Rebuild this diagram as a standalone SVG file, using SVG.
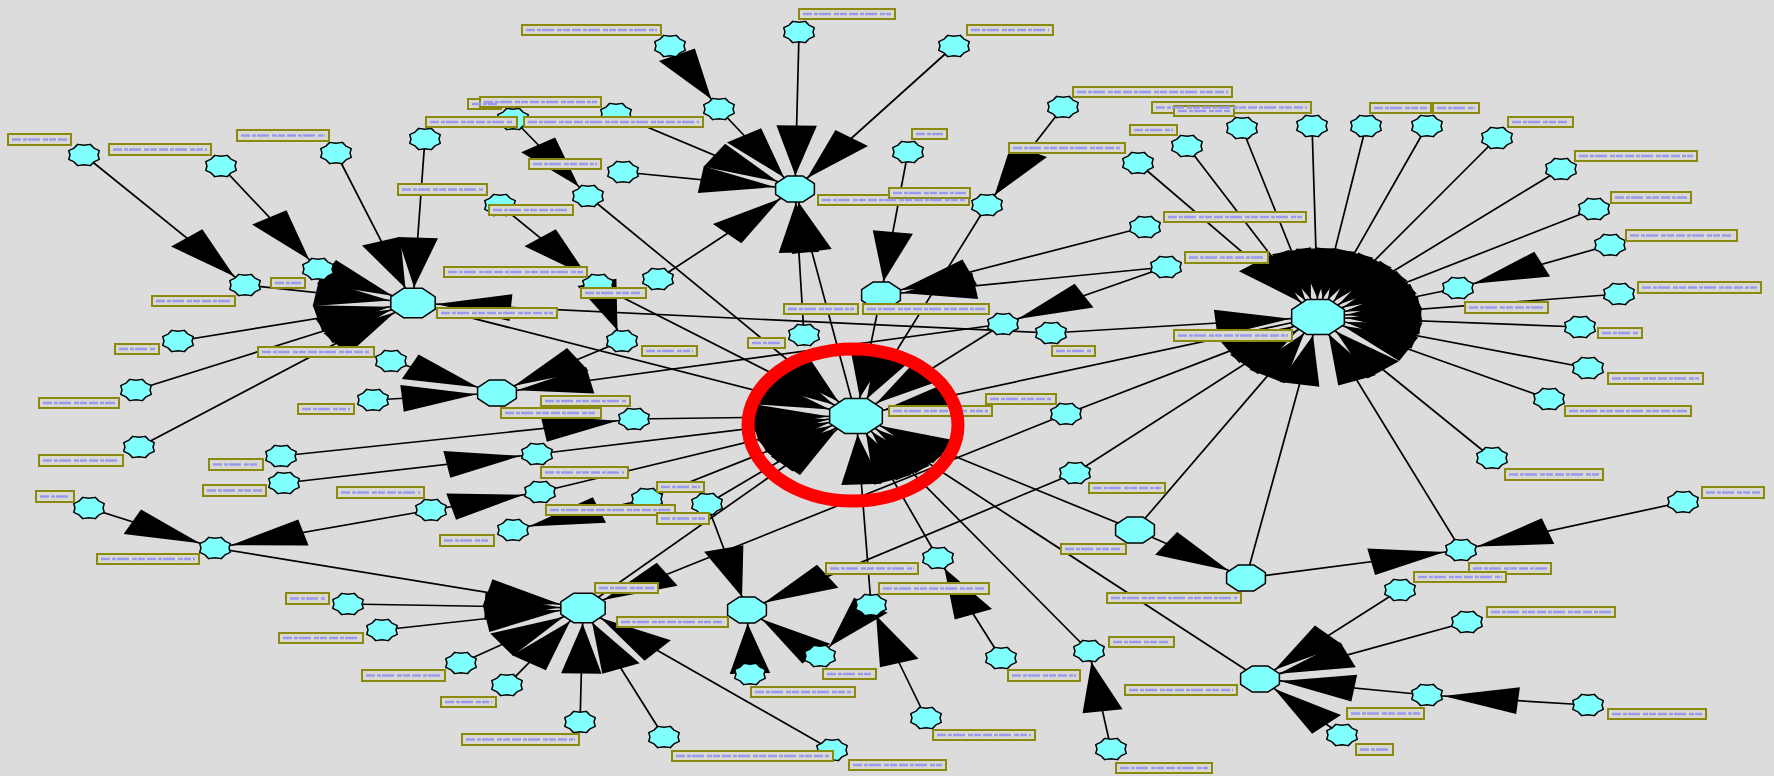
<svg xmlns="http://www.w3.org/2000/svg" xmlns:xlink="http://www.w3.org/1999/xlink" width="1774" height="776" viewBox="0 0 1774 776">
<style>
.e line{stroke:#000;stroke-width:1.7;vector-effect:non-scaling-stroke}
#sn,#h19,#h16,#h14{fill:#80ffff;stroke:#000;stroke-width:1.5;stroke-linejoin:round}
.lb rect{fill:#d9d9cf;stroke:#8a8a10;stroke-width:2}
.sc{fill:none;stroke:#9a9af2;stroke-width:2.5;stroke-dasharray:9 2 4 1 12 3 5 1 7 2}
</style>
<defs>
<marker id="aS" markerUnits="userSpaceOnUse" orient="auto" refX="0" refY="0" markerWidth="10" markerHeight="10" style="overflow:visible"><path d="M-11,0 L-61,-13.5 L-61,13.5 Z" fill="#000"/></marker>
<marker id="aM" markerUnits="userSpaceOnUse" orient="auto" refX="0" refY="0" markerWidth="10" markerHeight="10" style="overflow:visible"><path d="M-13.5,0 L-63.5,-13.5 L-63.5,13.5 Z" fill="#000"/></marker>
<marker id="aH" markerUnits="userSpaceOnUse" orient="auto" refX="0" refY="0" markerWidth="10" markerHeight="10" style="overflow:visible"><path d="M-15.5,0 L-65.5,-13.5 L-65.5,13.5 Z" fill="#000"/></marker>
<marker id="aL" markerUnits="userSpaceOnUse" orient="auto" refX="0" refY="0" markerWidth="10" markerHeight="10" style="overflow:visible"><path d="M-18.5,0 L-68.5,-13.5 L-68.5,13.5 Z" fill="#000"/></marker>
<polygon id="sn" points="14.03,0 15.25,4.4 9.92,6.91 6.32,10.63 0,9.78 -6.32,10.63 -9.92,6.91 -15.25,4.4 -14.03,0 -15.25,-4.4 -9.92,-6.91 -6.32,-10.63 0,-9.78 6.32,-10.63 9.92,-6.91 15.25,-4.4"/>
<polygon id="h19" points="26.33,7.27 10.91,17.55 -10.91,17.55 -26.33,7.27 -26.33,-7.27 -10.91,-17.55 10.91,-17.55 26.33,-7.27"/>
<polygon id="h16" points="22.18,6.12 9.18,14.78 -9.18,14.78 -22.18,6.12 -22.18,-6.12 -9.18,-14.78 9.18,-14.78 22.18,-6.12"/>
<polygon id="h14" points="19.4,5.36 8.04,12.94 -8.04,12.94 -19.4,5.36 -19.4,-5.36 -8.04,-12.94 8.04,-12.94 19.4,-5.36"/>
</defs>
<rect width="1774" height="776" fill="#dcdcdc"/>

<g id="connectors" class="e" transform="scale(1.5 1)">
<g style="marker-end:url(#aL)">
<line x1="422.7" y1="419" x2="570.7" y2="416"/>
<line x1="358" y1="454" x2="570.7" y2="416"/>
<line x1="360" y1="492" x2="570.7" y2="416"/>
<line x1="275.3" y1="303" x2="570.7" y2="416"/>
<line x1="398.7" y1="285" x2="570.7" y2="416"/>
<line x1="392" y1="196" x2="570.7" y2="416"/>
<line x1="658" y1="205" x2="570.7" y2="416"/>
<line x1="587.3" y1="295" x2="570.7" y2="416"/>
<line x1="668.7" y1="324" x2="570.7" y2="416"/>
<line x1="878.7" y1="317" x2="570.7" y2="416"/>
<line x1="756.7" y1="530" x2="570.7" y2="416"/>
<line x1="840" y1="679" x2="570.7" y2="416"/>
<line x1="726" y1="651" x2="570.7" y2="416"/>
<line x1="625.3" y1="558" x2="570.7" y2="416"/>
<line x1="580.7" y1="605" x2="570.7" y2="416"/>
<line x1="471.3" y1="504" x2="570.7" y2="416"/>
<line x1="431.3" y1="499" x2="570.7" y2="416"/>
<line x1="388.7" y1="608" x2="570.7" y2="416"/>
<line x1="700.7" y1="333" x2="878.7" y2="317"/>
<line x1="758.7" y1="163" x2="878.7" y2="317"/>
<line x1="791.3" y1="146" x2="878.7" y2="317"/>
<line x1="828" y1="128" x2="878.7" y2="317"/>
<line x1="874.7" y1="126" x2="878.7" y2="317"/>
<line x1="910.7" y1="126" x2="878.7" y2="317"/>
<line x1="951.3" y1="126" x2="878.7" y2="317"/>
<line x1="998" y1="138" x2="878.7" y2="317"/>
<line x1="1040.7" y1="169" x2="878.7" y2="317"/>
<line x1="1062.7" y1="209" x2="878.7" y2="317"/>
<line x1="972" y1="288" x2="878.7" y2="317"/>
<line x1="1079.3" y1="294" x2="878.7" y2="317"/>
<line x1="1053.3" y1="327" x2="878.7" y2="317"/>
<line x1="1058.7" y1="368" x2="878.7" y2="317"/>
<line x1="1032.7" y1="399" x2="878.7" y2="317"/>
<line x1="994.7" y1="458" x2="878.7" y2="317"/>
<line x1="974" y1="550" x2="878.7" y2="317"/>
<line x1="830.7" y1="578" x2="878.7" y2="317"/>
<line x1="756.7" y1="530" x2="878.7" y2="317"/>
<line x1="716.7" y1="473" x2="878.7" y2="317"/>
<line x1="710.7" y1="414" x2="878.7" y2="317"/>
</g>
<g style="marker-end:url(#aM)">
<line x1="479.3" y1="109" x2="530" y2="189"/>
<line x1="532.7" y1="32" x2="530" y2="189"/>
<line x1="636" y1="46" x2="530" y2="189"/>
<line x1="410.7" y1="114" x2="530" y2="189"/>
<line x1="415.3" y1="172" x2="530" y2="189"/>
<line x1="438.7" y1="279" x2="530" y2="189"/>
<line x1="570.7" y1="416" x2="530" y2="189"/>
<line x1="536" y1="335" x2="530" y2="189"/>
<line x1="414.7" y1="341" x2="331.3" y2="393"/>
<line x1="668.7" y1="324" x2="331.3" y2="393"/>
<line x1="260.7" y1="361" x2="331.3" y2="393"/>
<line x1="248.7" y1="400" x2="331.3" y2="393"/>
<line x1="605.3" y1="152" x2="587.3" y2="295"/>
<line x1="763.3" y1="227" x2="587.3" y2="295"/>
<line x1="777.3" y1="267" x2="587.3" y2="295"/>
<line x1="716.7" y1="473" x2="498" y2="610"/>
<line x1="546.7" y1="656" x2="498" y2="610"/>
<line x1="500" y1="674" x2="498" y2="610"/>
<line x1="471.3" y1="504" x2="498" y2="610"/>
<line x1="933.3" y1="590" x2="840" y2="679"/>
<line x1="978" y1="622" x2="840" y2="679"/>
<line x1="951.3" y1="695" x2="840" y2="679"/>
<line x1="894.7" y1="735" x2="840" y2="679"/>
<line x1="756.7" y1="530" x2="830.7" y2="578"/>
</g>
<g style="marker-end:url(#aH)">
<line x1="224" y1="153" x2="275.3" y2="303"/>
<line x1="283.3" y1="139" x2="275.3" y2="303"/>
<line x1="212" y1="269" x2="275.3" y2="303"/>
<line x1="163.3" y1="285" x2="275.3" y2="303"/>
<line x1="118.7" y1="341" x2="275.3" y2="303"/>
<line x1="90.7" y1="390" x2="275.3" y2="303"/>
<line x1="92.7" y1="447" x2="275.3" y2="303"/>
<line x1="700.7" y1="333" x2="275.3" y2="303"/>
<line x1="143.3" y1="548" x2="388.7" y2="608"/>
<line x1="232" y1="604" x2="388.7" y2="608"/>
<line x1="254.7" y1="630" x2="388.7" y2="608"/>
<line x1="307.3" y1="663" x2="388.7" y2="608"/>
<line x1="338" y1="685" x2="388.7" y2="608"/>
<line x1="386.7" y1="722" x2="388.7" y2="608"/>
<line x1="442.7" y1="737" x2="388.7" y2="608"/>
<line x1="554.7" y1="750" x2="388.7" y2="608"/>
<line x1="710.7" y1="414" x2="388.7" y2="608"/>
</g>
<g style="marker-end:url(#aS)">
<line x1="56" y1="155" x2="163.3" y2="285"/>
<line x1="147.3" y1="166" x2="212" y2="269"/>
<line x1="342" y1="119" x2="392" y2="196"/>
<line x1="333.3" y1="205" x2="398.7" y2="285"/>
<line x1="398.7" y1="285" x2="414.7" y2="341"/>
<line x1="446.7" y1="46" x2="479.3" y2="109"/>
<line x1="777.3" y1="267" x2="668.7" y2="324"/>
<line x1="708.7" y1="107" x2="658" y2="205"/>
<line x1="1073.3" y1="245" x2="972" y2="288"/>
<line x1="830.7" y1="578" x2="974" y2="550"/>
<line x1="1122" y1="502" x2="974" y2="550"/>
<line x1="1058.7" y1="705" x2="951.3" y2="695"/>
<line x1="740.7" y1="749" x2="726" y2="651"/>
<line x1="667.3" y1="658" x2="625.3" y2="558"/>
<line x1="617.3" y1="718" x2="580.7" y2="605"/>
<line x1="580.7" y1="605" x2="546.7" y2="656"/>
<line x1="431.3" y1="499" x2="342" y2="530"/>
<line x1="59.3" y1="508" x2="143.3" y2="548"/>
<line x1="287.3" y1="510" x2="143.3" y2="548"/>
<line x1="287.3" y1="510" x2="360" y2="492"/>
<line x1="189.3" y1="483" x2="358" y2="454"/>
<line x1="187.3" y1="456" x2="422.7" y2="419"/>
</g>
</g>

<g id="nodes">
<g id="H1"><use xlink:href="#h19" x="856" y="416"/></g>
<g id="H2"><use xlink:href="#h19" x="1318" y="317"/></g>
<g id="H3"><use xlink:href="#h14" x="795" y="189"/></g>
<g id="H4"><use xlink:href="#h16" x="413" y="303"/></g>
<g id="H5"><use xlink:href="#h14" x="497" y="393"/></g>
<g id="H6"><use xlink:href="#h16" x="583" y="608"/></g>
<g id="H7"><use xlink:href="#h14" x="747" y="610"/></g>
<g id="H8"><use xlink:href="#h14" x="1260" y="679"/></g>
<g id="H9"><use xlink:href="#h14" x="1135" y="530"/></g>
<g id="H10"><use xlink:href="#h14" x="1246" y="578"/></g>
<g id="H12"><use xlink:href="#h14" x="881" y="295"/></g>
<g id="A1"><use xlink:href="#sn" x="84" y="155"/></g>
<g id="A2"><use xlink:href="#sn" x="221" y="166"/></g>
<g id="A3"><use xlink:href="#sn" x="336" y="153"/></g>
<g id="A4"><use xlink:href="#sn" x="425" y="139"/></g>
<g id="A5"><use xlink:href="#sn" x="513" y="119"/></g>
<g id="B0"><use xlink:href="#sn" x="616" y="114"/></g>
<g id="A6"><use xlink:href="#sn" x="500" y="205"/></g>
<g id="A7"><use xlink:href="#sn" x="588" y="196"/></g>
<g id="B6"><use xlink:href="#sn" x="623" y="172"/></g>
<g id="B2"><use xlink:href="#sn" x="670" y="46"/></g>
<g id="B1"><use xlink:href="#sn" x="799" y="32"/></g>
<g id="B3"><use xlink:href="#sn" x="954" y="46"/></g>
<g id="B4"><use xlink:href="#sn" x="719" y="109"/></g>
<g id="B5"><use xlink:href="#sn" x="908" y="152"/></g>
<g id="B7"><use xlink:href="#sn" x="658" y="279"/></g>
<g id="A8"><use xlink:href="#sn" x="598" y="285"/></g>
<g id="B8"><use xlink:href="#sn" x="622" y="341"/></g>
<g id="B9"><use xlink:href="#sn" x="804" y="335"/></g>
<g id="B10"><use xlink:href="#sn" x="987" y="205"/></g>
<g id="B11"><use xlink:href="#sn" x="1063" y="107"/></g>
<g id="B12"><use xlink:href="#sn" x="1138" y="163"/></g>
<g id="B13"><use xlink:href="#sn" x="1187" y="146"/></g>
<g id="B14"><use xlink:href="#sn" x="1145" y="227"/></g>
<g id="B15"><use xlink:href="#sn" x="1166" y="267"/></g>
<g id="B16"><use xlink:href="#sn" x="1003" y="324"/></g>
<g id="B17"><use xlink:href="#sn" x="1051" y="333"/></g>
<g id="C1"><use xlink:href="#sn" x="1242" y="128"/></g>
<g id="C2"><use xlink:href="#sn" x="1312" y="126"/></g>
<g id="C3"><use xlink:href="#sn" x="1366" y="126"/></g>
<g id="C4"><use xlink:href="#sn" x="1427" y="126"/></g>
<g id="C5"><use xlink:href="#sn" x="1497" y="138"/></g>
<g id="C6"><use xlink:href="#sn" x="1561" y="169"/></g>
<g id="C7"><use xlink:href="#sn" x="1594" y="209"/></g>
<g id="C8"><use xlink:href="#sn" x="1610" y="245"/></g>
<g id="C9"><use xlink:href="#sn" x="1458" y="288"/></g>
<g id="C10"><use xlink:href="#sn" x="1619" y="294"/></g>
<g id="C11"><use xlink:href="#sn" x="1580" y="327"/></g>
<g id="C12"><use xlink:href="#sn" x="1588" y="368"/></g>
<g id="N43"><use xlink:href="#sn" x="1549" y="399"/></g>
<g id="N45"><use xlink:href="#sn" x="1492" y="458"/></g>
<g id="N46"><use xlink:href="#sn" x="1683" y="502"/></g>
<g id="N47"><use xlink:href="#sn" x="1461" y="550"/></g>
<g id="N48"><use xlink:href="#sn" x="1400" y="590"/></g>
<g id="N49"><use xlink:href="#sn" x="1467" y="622"/></g>
<g id="N50"><use xlink:href="#sn" x="1427" y="695"/></g>
<g id="N51"><use xlink:href="#sn" x="1588" y="705"/></g>
<g id="N52"><use xlink:href="#sn" x="1342" y="735"/></g>
<g id="N8"><use xlink:href="#sn" x="318" y="269"/></g>
<g id="N9"><use xlink:href="#sn" x="245" y="285"/></g>
<g id="N10"><use xlink:href="#sn" x="178" y="341"/></g>
<g id="N11"><use xlink:href="#sn" x="391" y="361"/></g>
<g id="N12"><use xlink:href="#sn" x="136" y="390"/></g>
<g id="N13"><use xlink:href="#sn" x="139" y="447"/></g>
<g id="N14"><use xlink:href="#sn" x="373" y="400"/></g>
<g id="N15"><use xlink:href="#sn" x="281" y="456"/></g>
<g id="N16"><use xlink:href="#sn" x="284" y="483"/></g>
<g id="N17"><use xlink:href="#sn" x="537" y="454"/></g>
<g id="N18"><use xlink:href="#sn" x="540" y="492"/></g>
<g id="N19"><use xlink:href="#sn" x="431" y="510"/></g>
<g id="N20"><use xlink:href="#sn" x="513" y="530"/></g>
<g id="N21"><use xlink:href="#sn" x="89" y="508"/></g>
<g id="N22"><use xlink:href="#sn" x="215" y="548"/></g>
<g id="N23"><use xlink:href="#sn" x="348" y="604"/></g>
<g id="N24"><use xlink:href="#sn" x="382" y="630"/></g>
<g id="N25"><use xlink:href="#sn" x="461" y="663"/></g>
<g id="N26"><use xlink:href="#sn" x="507" y="685"/></g>
<g id="N27"><use xlink:href="#sn" x="580" y="722"/></g>
<g id="N28"><use xlink:href="#sn" x="634" y="419"/></g>
<g id="N29"><use xlink:href="#sn" x="1066" y="414"/></g>
<g id="N30"><use xlink:href="#sn" x="1075" y="473"/></g>
<g id="N31"><use xlink:href="#sn" x="647" y="499"/></g>
<g id="N32"><use xlink:href="#sn" x="707" y="504"/></g>
<g id="N33"><use xlink:href="#sn" x="938" y="558"/></g>
<g id="N34"><use xlink:href="#sn" x="871" y="605"/></g>
<g id="N35"><use xlink:href="#sn" x="820" y="656"/></g>
<g id="N36"><use xlink:href="#sn" x="750" y="674"/></g>
<g id="N37"><use xlink:href="#sn" x="1001" y="658"/></g>
<g id="N38"><use xlink:href="#sn" x="926" y="718"/></g>
<g id="N39"><use xlink:href="#sn" x="1089" y="651"/></g>
<g id="N40"><use xlink:href="#sn" x="1111" y="749"/></g>
<g id="N41"><use xlink:href="#sn" x="664" y="737"/></g>
<g id="N42"><use xlink:href="#sn" x="832" y="750"/></g>
</g>

<g id="labels" class="lb">
<rect x="8" y="134" width="63" height="11"/>
<rect x="109" y="144" width="102" height="11"/>
<rect x="237" y="130" width="92" height="11"/>
<rect x="398" y="184" width="89" height="11"/>
<rect x="468" y="99" width="33" height="10"/>
<rect x="480" y="97" width="121" height="10"/>
<rect x="426" y="117" width="91" height="10"/>
<rect x="524" y="117" width="179" height="10"/>
<rect x="489" y="205" width="84" height="10"/>
<rect x="529" y="159" width="72" height="10"/>
<rect x="271" y="278" width="34" height="10"/>
<rect x="152" y="296" width="83" height="10"/>
<rect x="437" y="308" width="120" height="10"/>
<rect x="115" y="344" width="44" height="10"/>
<rect x="258" y="347" width="116" height="10"/>
<rect x="444" y="267" width="143" height="10"/>
<rect x="581" y="288" width="65" height="10"/>
<rect x="39" y="398" width="80" height="10"/>
<rect x="39" y="455" width="84" height="11"/>
<rect x="298" y="404" width="56" height="10"/>
<rect x="541" y="396" width="89" height="10"/>
<rect x="501" y="408" width="100" height="10"/>
<rect x="209" y="459" width="54" height="11"/>
<rect x="203" y="485" width="63" height="11"/>
<rect x="541" y="467" width="87" height="11"/>
<rect x="337" y="487" width="87" height="11"/>
<rect x="546" y="505" width="129" height="10"/>
<rect x="440" y="535" width="54" height="11"/>
<rect x="36" y="491" width="38" height="11"/>
<rect x="97" y="554" width="102" height="10"/>
<rect x="286" y="593" width="43" height="11"/>
<rect x="279" y="633" width="84" height="10"/>
<rect x="362" y="670" width="83" height="11"/>
<rect x="441" y="697" width="55" height="10"/>
<rect x="462" y="734" width="117" height="11"/>
<rect x="595" y="583" width="63" height="10"/>
<rect x="617" y="617" width="111" height="10"/>
<rect x="657" y="482" width="47" height="10"/>
<rect x="657" y="513" width="52" height="11"/>
<rect x="889" y="406" width="103" height="10"/>
<rect x="986" y="394" width="70" height="10"/>
<rect x="1089" y="483" width="76" height="10"/>
<rect x="1061" y="544" width="65" height="10"/>
<rect x="879" y="583" width="110" height="11"/>
<rect x="826" y="563" width="92" height="11"/>
<rect x="823" y="669" width="53" height="10"/>
<rect x="751" y="687" width="104" height="10"/>
<rect x="1008" y="670" width="72" height="11"/>
<rect x="933" y="730" width="102" height="10"/>
<rect x="1109" y="637" width="65" height="10"/>
<rect x="1116" y="763" width="96" height="10"/>
<rect x="672" y="751" width="161" height="10"/>
<rect x="849" y="760" width="97" height="10"/>
<rect x="1107" y="593" width="134" height="10"/>
<rect x="1125" y="685" width="112" height="10"/>
<rect x="1565" y="406" width="126" height="10"/>
<rect x="1608" y="373" width="95" height="11"/>
<rect x="1505" y="469" width="98" height="11"/>
<rect x="1702" y="487" width="62" height="11"/>
<rect x="1469" y="563" width="82" height="11"/>
<rect x="1414" y="572" width="92" height="10"/>
<rect x="1487" y="607" width="128" height="10"/>
<rect x="1347" y="708" width="77" height="11"/>
<rect x="1608" y="709" width="98" height="10"/>
<rect x="1356" y="744" width="37" height="11"/>
<rect x="799" y="9" width="96" height="10"/>
<rect x="522" y="25" width="139" height="10"/>
<rect x="967" y="25" width="86" height="10"/>
<rect x="818" y="195" width="151" height="10"/>
<rect x="889" y="188" width="81" height="10"/>
<rect x="912" y="129" width="35" height="10"/>
<rect x="642" y="346" width="55" height="10"/>
<rect x="748" y="338" width="37" height="10"/>
<rect x="784" y="304" width="74" height="10"/>
<rect x="863" y="304" width="126" height="10"/>
<rect x="1009" y="143" width="116" height="10"/>
<rect x="1073" y="87" width="159" height="10"/>
<rect x="1130" y="125" width="47" height="10"/>
<rect x="1152" y="102" width="159" height="11"/>
<rect x="1174" y="106" width="60" height="10"/>
<rect x="1164" y="212" width="142" height="10"/>
<rect x="1185" y="252" width="83" height="11"/>
<rect x="1052" y="346" width="43" height="10"/>
<rect x="1174" y="330" width="118" height="11"/>
<rect x="1370" y="103" width="61" height="10"/>
<rect x="1433" y="103" width="46" height="10"/>
<rect x="1508" y="117" width="65" height="10"/>
<rect x="1575" y="151" width="122" height="10"/>
<rect x="1611" y="192" width="80" height="11"/>
<rect x="1626" y="230" width="111" height="11"/>
<rect x="1465" y="302" width="83" height="11"/>
<rect x="1638" y="282" width="123" height="11"/>
<rect x="1598" y="328" width="44" height="10"/>
<path class="sc" d="M12 139.5H67M113 149.5H207M241 135.5H325M402 189.5H483M472 104H497M484 102H597M430 122H513M528 122H699M493 210H569M533 164H597M275 283H301M156 301H231M441 313H553M119 349H155M262 352H370M448 272H583M585 293H642M43 403H115M43 460.5H119M302 409H350M545 401H626M505 413H597M213 464.5H259M207 490.5H262M545 472.5H624M341 492.5H420M550 510H671M444 540.5H490M40 496.5H70M101 559H195M290 598.5H325M283 638H359M366 675.5H441M445 702H492M466 739.5H575M599 588H654M621 622H724M661 487H700M661 518.5H705M893 411H988M990 399H1052M1093 488H1161M1065 549H1122M883 588.5H985M830 568.5H914M827 674H872M755 692H851M1012 675.5H1076M937 735H1031M1113 642H1170M1120 768H1208M676 756H829M853 765H942M1111 598H1237M1129 690H1233M1569 411H1687M1612 378.5H1699M1509 474.5H1599M1706 492.5H1760M1473 568.5H1547M1418 577H1502M1491 612H1611M1351 713.5H1420M1612 714H1702M1360 749.5H1389M803 14H891M526 30H657M971 30H1049M822 200H965M893 193H966M916 134H943M646 351H693M752 343H781M788 309H854M867 309H985M1013 148H1121M1077 92H1228M1134 130H1173M1156 107.5H1307M1178 111H1230M1168 217H1302M1189 257.5H1264M1056 351H1091M1178 335.5H1288M1374 108H1427M1437 108H1475M1512 122H1569M1579 156H1693M1615 197.5H1687M1630 235.5H1733M1469 307.5H1544M1642 287.5H1757M1602 333H1638"/>
</g>

<ellipse id="highlight" cx="853" cy="425" rx="105" ry="76" fill="none" stroke="#ff0000" stroke-width="13"/>
</svg>
